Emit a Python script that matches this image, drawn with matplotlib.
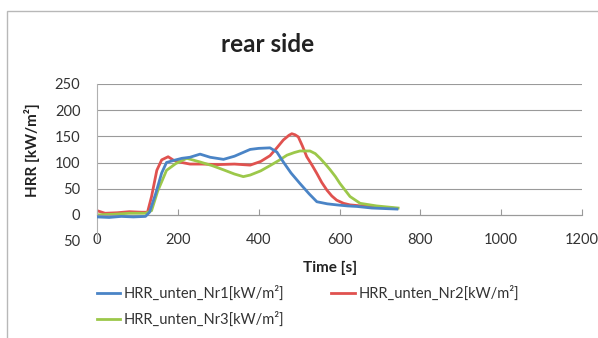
import matplotlib
matplotlib.use("Agg")
import matplotlib.pyplot as plt
from matplotlib.patches import Rectangle

# time [s] and HRR [kW/m2]
t1 = [0, 30, 60, 90, 120, 130, 145, 160, 172, 190, 210, 230, 255, 280, 313, 340, 379, 400, 428, 445,
      461, 480, 502, 525, 544, 570, 593, 620, 643, 680, 742]
nr1 = [-4, -5, -3, -4, -3, 5, 40, 80, 100, 104, 108, 110, 116, 110, 106, 112, 125, 127, 128, 120,
       101, 80, 60, 40, 25, 21, 19, 17, 16, 13, 11]

t2 = [0, 20, 50, 80, 110, 125, 135, 148, 160, 176, 190, 210, 230, 260, 300, 340, 379, 405, 428, 445,
      461, 475, 482, 490, 498, 508, 519, 532, 544, 556, 569, 581, 593, 610, 626, 668, 742]
nr2 = [8, 3, 4, 6, 5, 5, 35, 85, 105, 111, 104, 100, 97, 97, 96, 97, 95, 102, 113, 128,
       143, 152, 155, 153, 149, 132, 111, 95, 79, 62, 47, 36, 28, 22, 19, 16, 12]

t3 = [0, 40, 80, 120, 135, 150, 172, 195, 222, 255, 285, 313, 340, 362, 379, 405, 428, 450, 470, 488,
      502, 527, 540, 552, 565, 577, 590, 601, 614, 626, 651, 692, 745]
nr3 = [0, 1, 3, 3, 8, 45, 85, 98, 108, 101, 94, 86, 78, 73, 76, 84, 94, 104, 114, 119,
       122, 122, 117, 108, 97, 86, 73, 60, 47, 35, 22, 17, 13]

labels = ["HRR_unten_Nr1[kW/m²]", "HRR_unten_Nr2[kW/m²]", "HRR_unten_Nr3[kW/m²]"]
colors = ["#4a84c6", "#e0524f", "#9cc84a"]

xticks = [0, 200, 400, 600, 800, 1000, 1200]
yticks = [-50, 0, 50, 100, 150, 200, 250]
ytick_labels = ["50", "0", "50", "100", "150", "200", "250"]

plt.rcParams["font.family"] = ["Lato", "DejaVu Sans"]

fig = plt.figure(figsize=(5.98, 3.38), dpi=100)
ax = fig.add_axes([97 / 598, 1 - 241 / 338, 485 / 598, 157 / 338])

l1, = ax.plot(t1, nr1, color=colors[0], lw=2.0, label=labels[0])
l2, = ax.plot(t2, nr2, color=colors[1], lw=2.0, label=labels[1])
l3, = ax.plot(t3, nr3, color=colors[2], lw=2.0, label=labels[2])
l1.set_zorder(3)

ax.set_xlim(0, 1200)
ax.set_ylim(-50, 250)
ax.set_xticks(xticks)
ax.set_yticks(yticks)
ax.set_yticklabels(ytick_labels)

ax.grid(axis="y", color="#9a9a9a", lw=0.8)
ax.get_ygridlines()[0].set_visible(False)
ax.set_axisbelow(True)

for s in ["top", "right"]:
    ax.spines[s].set_visible(False)
ax.spines["left"].set_color("#b0b0b0")
ax.spines["left"].set_linestyle((0, (3, 1)))
ax.spines["bottom"].set_position(("data", 0))
ax.spines["bottom"].set_color("#9a9a9a")

ax.tick_params(axis="x", direction="in", length=4, color="#9a9a9a", pad=13, labelsize=10.5, labelcolor="#333333")
ax.tick_params(axis="y", length=0, pad=12, labelsize=10.5, labelcolor="#333333")

ax.set_xlabel("Time [s]", fontsize=11, fontweight="bold", color="#222222")
ax.xaxis.set_label_coords((330 - 97) / 485, -0.125)
ax.set_ylabel("HRR [kW/m²]", fontsize=11, fontweight="bold", color="#222222")
ax.yaxis.set_label_coords(-(97 - 40) / 485, (241 - 150) / 157)

fig.text(268 / 598, 1 - 45 / 338, "rear side", ha="center", va="center",
         fontsize=17.5, fontweight="bold", color="#222222")

fig.legend([l1, l3, l2], [labels[0], labels[2], labels[1]], ncol=2,
           loc="upper left", bbox_to_anchor=(97 / 598, 1 - 286 / 338),
           frameon=False, fontsize=10.5, handlelength=1.6, handletextpad=0.25,
           labelspacing=0.75, columnspacing=3.2, borderpad=0, borderaxespad=0,
           labelcolor="#333333")

fig.patches.append(Rectangle((7 / 598, -0.1), 1.2, 1.1 - 11 / 338, transform=fig.transFigure,
                             fill=False, edgecolor="#b8b8b8", lw=1))

fig.savefig("out.png", dpi=100)
